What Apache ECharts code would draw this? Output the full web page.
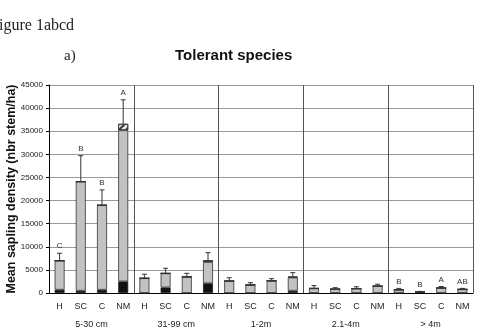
<!DOCTYPE html>
<html>
<head>
<meta charset="utf-8">
<script src="https://cdn.jsdelivr.net/npm/echarts@6/dist/echarts.min.js"></script>
<style>
  html, body { margin: 0; padding: 0; background: #fff; }
  #chart { width: 479px; height: 333px; }
</style>
</head>
<body>
<div id="chart"></div>
<script>
// size classes and treatments
const groups = ['5-30 cm', '31-99 cm', '1-2m', '2.1-4m', '> 4m'];
const treatments = ['H', 'SC', 'C', 'NM'];

// stacked parts of each bar (stems/ha), 4 treatments x 5 size classes
const blackVals   = [700, 500, 700, 2500,   0, 1200, 0, 2100,   0, 0, 0, 500,   0, 0, 0, 0,   0, 200, 0, 0];
const greyVals    = [6300, 23600, 18300, 32700,   3200, 3050, 3500, 4600,   2600, 1750, 2650, 2850,   1000, 850, 950, 1500,   700, 0, 1100, 800];
const hatchedVals = [0, 0, 0, 1400,   0, 0, 0, 400,   0, 0, 0, 200,   0, 0, 0, 0,   0, 0, 0, 0];
// error bar sizes and letters
const errVals  = [1600, 5600, 3300, 5200,   850, 1100, 760, 1620,   700, 480, 450, 850,   600, 300, 400, 400,   300, 150, 300, 200];
const letters  = ['C', 'B', 'B', 'A',   '', '', '', '',   '', '', '', '',   '', '', '', '',   'B', 'B', 'A', 'AB'];

const cats = [];
groups.forEach(() => treatments.forEach(t => cats.push(t)));

const errData = cats.map((c, i) => {
  const total = blackVals[i] + greyVals[i] + hatchedVals[i];
  return [i, total, total + errVals[i], letters[i]];
});

const font = 'Liberation Sans';
const chart = echarts.init(document.getElementById('chart'));

const option = {
  animation: false,
  title: [
    { text: 'igure 1abcd', left: -1, top: 18, padding: 0,
      textStyle: { fontFamily: 'Liberation Serif', fontWeight: 'normal', fontSize: 16, color: '#222' } },
    { text: 'a)', left: 64, top: 49, padding: 0,
      textStyle: { fontFamily: 'Liberation Serif', fontWeight: 'normal', fontSize: 15, color: '#222' } },
    { text: 'Tolerant species', left: 175, top: 48, padding: 0,
      textStyle: { fontFamily: font, fontWeight: 'bold', fontSize: 15, color: '#111' } }
  ],
  grid: { left: 49, right: 6, top: 85, bottom: 40, containLabel: false, outerBoundsMode: 'none' },
  xAxis: [
    {
      type: 'category', data: cats, position: 'bottom',
      axisLine: { lineStyle: { color: '#000', width: 1 } },
      axisTick: { interval: 0, length: 18, lineStyle: { color: '#777' } },
      axisLabel: { interval: 0, fontFamily: font, fontSize: 9, color: '#222', margin: 9 }
    },
    {
      type: 'category', data: groups, position: 'bottom',
      axisLine: { show: false },
      axisTick: { interval: 0, length: 38, lineStyle: { color: '#777' } },
      axisLabel: { interval: 0, fontFamily: font, fontSize: 9, color: '#222', margin: 27 },
      splitLine: { show: true, interval: 0, lineStyle: { color: '#555', width: 1 } }
    }
  ],
  yAxis: {
    type: 'value', min: 0, max: 45000, interval: 5000,
    name: 'Mean sapling density (nbr stem/ha)', nameLocation: 'middle', nameGap: 31, nameMoveOverlap: false,
    nameTextStyle: { fontFamily: font, fontWeight: 'bold', fontSize: 12.5, color: '#111' },
    axisLine: { show: true, lineStyle: { color: '#000' } },
    axisTick: { show: true, length: 3, lineStyle: { color: '#000' } },
    axisLabel: { fontFamily: font, fontSize: 8, color: '#222', margin: 6, formatter: v => String(v) },
    splitLine: { lineStyle: { color: '#999', width: 1 } }
  },
  series: [
    { name: 'black', type: 'bar', stack: 'a', xAxisIndex: 0, barWidth: 10, data: blackVals,
      itemStyle: { color: '#111', borderColor: '#222', borderWidth: 0.8 } },
    { name: 'grey', type: 'bar', stack: 'a', xAxisIndex: 0, barWidth: 10, data: greyVals,
      itemStyle: { color: '#c2c2c2', borderColor: '#333', borderWidth: 0.8 } },
    { name: 'hatched', type: 'bar', stack: 'a', xAxisIndex: 0, barWidth: 10, data: hatchedVals,
      itemStyle: { color: '#e4e4e4', borderColor: '#333', borderWidth: 0.8,
        decal: { symbol: 'rect', symbolSize: 1, color: '#333', dashArrayX: [1, 0], dashArrayY: [2, 3], rotation: -Math.PI / 4 } } },
    {
      name: 'err', type: 'custom', xAxisIndex: 0, z: 5, clip: false,
      data: errData, encode: { x: 0, y: 2 },
      renderItem: function (params, api) {
        const i = api.value(0);
        const base = api.coord([i, api.value(1)]);
        const top = api.coord([i, api.value(2)]);
        const letter = letters[i];
        const children = [
          { type: 'line', shape: { x1: base[0], y1: base[1], x2: top[0], y2: top[1] },
            style: { stroke: '#333', lineWidth: 1 } },
          { type: 'line', shape: { x1: top[0] - 2.5, y1: top[1], x2: top[0] + 2.5, y2: top[1] },
            style: { stroke: '#333', lineWidth: 1 } }
        ];
        if (letter) {
          children.push({ type: 'text',
            style: { text: letter, x: top[0], y: top[1] - 3, align: 'center', verticalAlign: 'bottom',
              font: '8px "Liberation Sans"', fill: '#333' } });
        }
        return { type: 'group', children: children };
      }
    }
  ]
};
chart.setOption(option);
</script>
</body>
</html>
